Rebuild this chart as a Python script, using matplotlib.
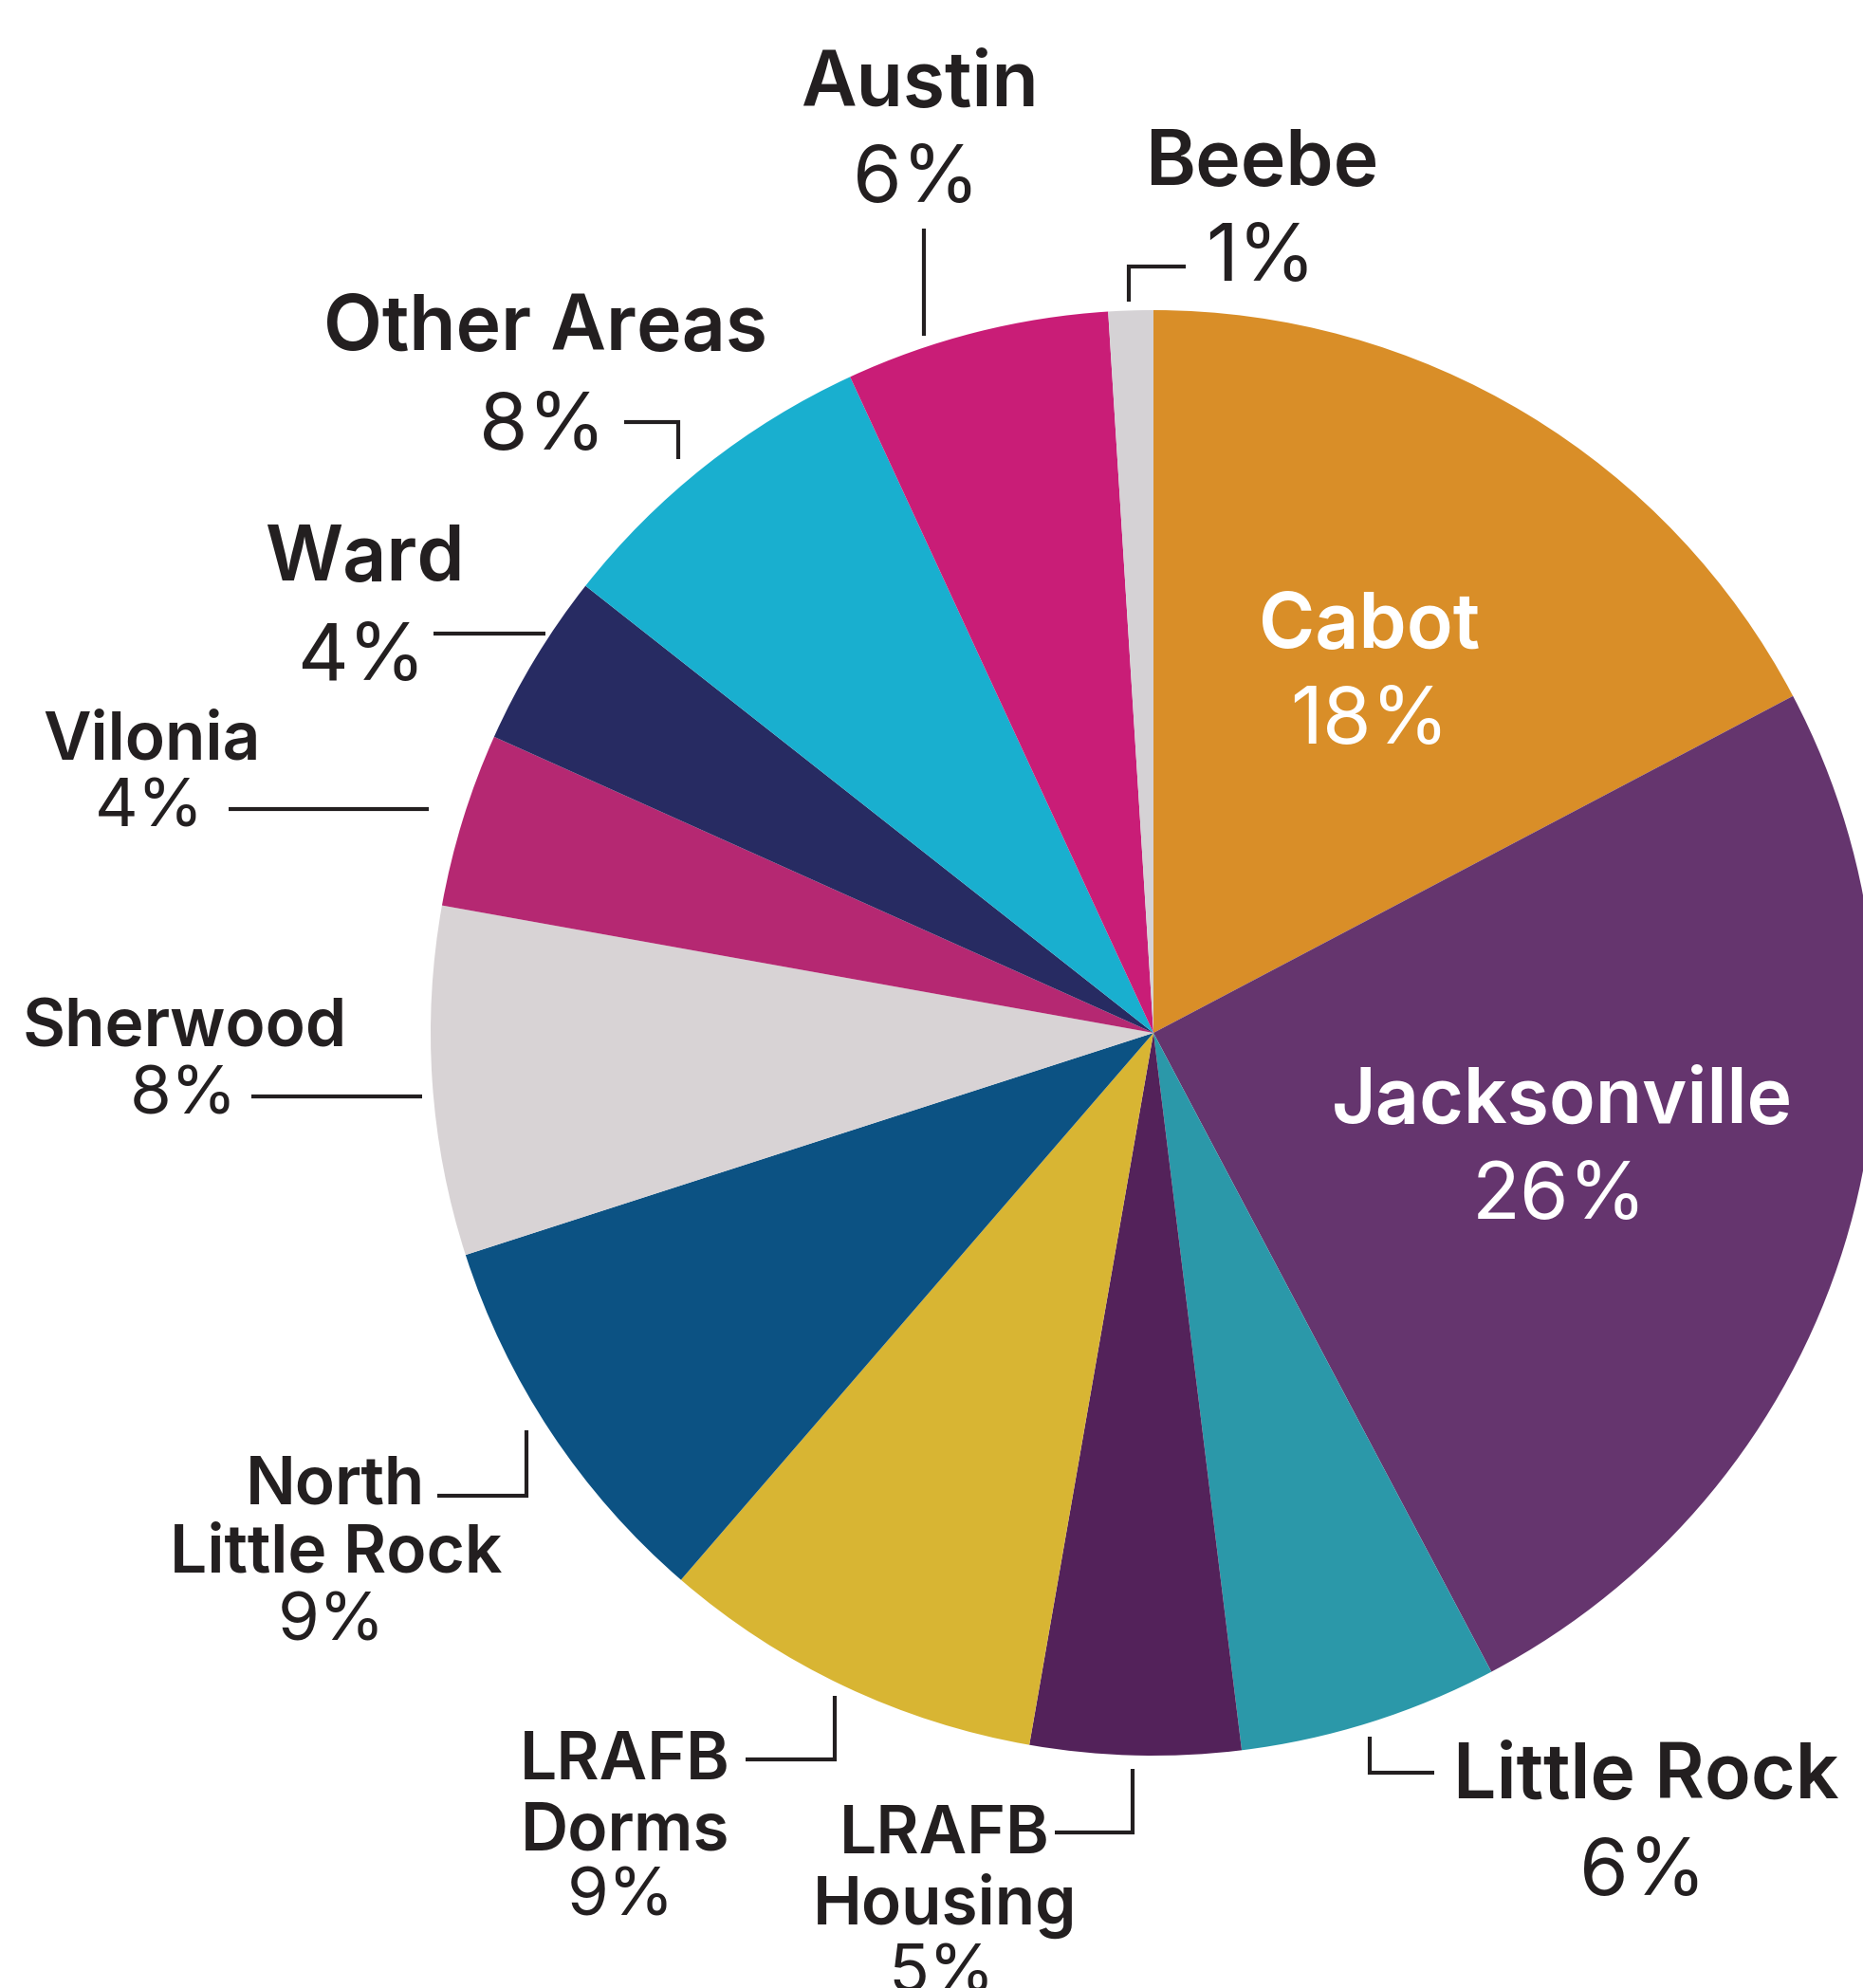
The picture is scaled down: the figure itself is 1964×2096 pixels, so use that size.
import matplotlib
matplotlib.use("Agg")
import matplotlib.pyplot as plt

# slice shares (angles), printed labels kept as shown
areas = ["Cabot", "Jacksonville", "Little Rock", "LRAFB\nHousing", "LRAFB\nDorms",
         "North\nLittle Rock", "Sherwood", "Vilonia", "Ward", "Other Areas",
         "Austin", "Beebe"]
shares = [17.3, 25.0, 5.8, 4.7, 8.6, 8.7, 7.8, 3.9, 3.9, 7.5, 5.9, 1.0]
pct_text = ["18%", "26%", "6%", "5%", "9%", "9%", "8%", "4%", "4%", "8%", "6%", "1%"]
colors = ["#D98E28", "#65356E", "#2B98A9", "#53225A", "#D8B533", "#0C5283",
          "#D8D3D5", "#B52872", "#272B62", "#19AFCF", "#C91D77", "#D5D2D5"]

plt.rcParams['font.family'] = ['Inter', 'DejaVu Sans']

W, H = 1965, 2096
fig = plt.figure(figsize=(W / 100, H / 100), dpi=100)
ax = fig.add_axes([0, 0, 1, 1])

# y axis is flipped, so start at -90 and go counterclockwise to look clockwise from top
ax.pie(shares, colors=colors, startangle=-90, counterclock=True,
       center=(1216, 1089), radius=762, frame=True,
       wedgeprops=dict(linewidth=0, antialiased=True))
ax.set_xlim(0, W)
ax.set_ylim(H, 0)
ax.set_aspect('equal')
ax.axis('off')

ink = "#231F20"
big, big_pct = 58, 60
mid, mid_pct = 50, 51
lw = 3.0

def label(x, y, s, size, bold=True, color=ink):
    ax.text(x, y, s, fontsize=size, fontweight=600 if bold else 400,
            color=color, ha='center', va='center', linespacing=0.95)

def leader(xs, ys):
    ax.plot(xs, ys, color=ink, lw=lw, solid_capstyle='butt', solid_joinstyle='miter')

# inside labels
label(1444, 662, areas[0], big, color='white')
label(1444, 762, pct_text[0], big_pct, bold=False, color='white')
label(1647, 1163, areas[1], big, color='white')
label(1644, 1263, pct_text[1], big_pct, bold=False, color='white')

# Little Rock
label(1735, 1875, areas[2], big)
label(1732, 1976, pct_text[2], big_pct, bold=False)
leader([1444, 1444, 1512], [1831, 1869, 1869])

# LRAFB Housing
label(996, 1936, "LRAFB", mid)
label(996, 2009, "Housing", mid)
label(993, 2082, pct_text[3], mid_pct, bold=False)
leader([1112, 1194, 1194], [1932, 1932, 1865])

# LRAFB Dorms
label(659, 1858, "LRAFB", mid)
label(659, 1932, "Dorms", mid)
label(655, 2001, pct_text[4], mid_pct, bold=False)
leader([786, 880, 880], [1855, 1855, 1788])

# North Little Rock
label(354, 1567, "North", mid)
label(354, 1639, "Little Rock", mid)
label(350, 1711, pct_text[5], mid_pct, bold=False)
leader([461, 555, 555], [1577, 1577, 1508])

# Sherwood
label(195, 1085, areas[6], mid)
label(194, 1156, pct_text[6], mid_pct, bold=False)
leader([265, 445], [1156, 1156])

# Vilonia
label(160, 782, areas[7], mid)
label(158, 853, pct_text[7], mid_pct, bold=False)
leader([241, 452], [853, 853])

# Ward
label(384, 591, areas[8], big)
label(381, 695, pct_text[8], big_pct, bold=False)
leader([457, 575], [668, 668])

# Other Areas
label(575, 348, areas[9], big)
label(572, 452, pct_text[9], big_pct, bold=False)
leader([658, 715, 715], [445, 445, 484])

# Austin
label(969, 91, areas[10], big)
label(966, 191, pct_text[10], big_pct, bold=False)
leader([974, 974], [241, 354])

# Beebe
label(1330, 174, areas[11], big)
label(1329, 274, pct_text[11], big_pct, bold=False)
leader([1250, 1190, 1190], [281, 281, 318])

fig.savefig("out.png", dpi=100, facecolor='white')
